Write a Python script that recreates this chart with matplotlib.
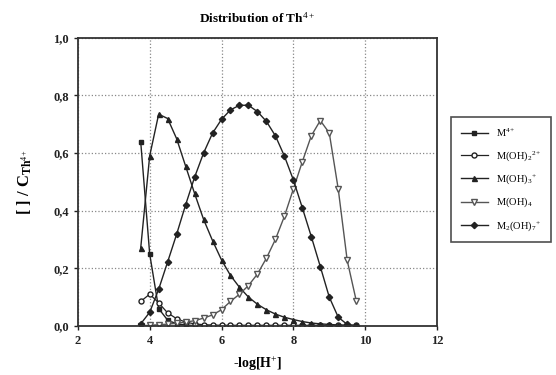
import numpy as np
import matplotlib
matplotlib.use("Agg")
import matplotlib.pyplot as plt

plt.rcParams["font.family"] = ["Liberation Serif", "DejaVu Serif"]
plt.rcParams["mathtext.fontset"] = "custom"
plt.rcParams["mathtext.rm"] = "Liberation Serif"
plt.rcParams["mathtext.it"] = "Liberation Serif:italic"
plt.rcParams["mathtext.bf"] = "Liberation Serif:bold"

# -log[H+] values
ph = [3.75, 4.0, 4.25, 4.5, 4.75, 5.0, 5.25, 5.5, 5.75, 6.0, 6.25, 6.5, 6.75,
      7.0, 7.25, 7.5, 7.75, 8.0, 8.25, 8.5, 8.75, 9.0, 9.25, 9.5, 9.75]

m4 = [0.64, 0.25, 0.06, 0.02, 0.007, 0.003, 0.001, 0.0, 0.0, 0.0, 0.0, 0.0, 0.0,
      0.0, 0.0, 0.0, 0.0, 0.0, 0.0, 0.0, 0.0, 0.0, 0.0, 0.0, 0.0]
m_oh2 = [0.085, 0.11, 0.08, 0.045, 0.025, 0.013, 0.007, 0.004, 0.003, 0.002, 0.002, 0.002, 0.002,
         0.002, 0.002, 0.002, 0.002, 0.002, 0.002, 0.002, 0.002, 0.002, 0.002, 0.002, 0.002]
m_oh3 = [0.27, 0.59, 0.735, 0.72, 0.65, 0.555, 0.46, 0.37, 0.296, 0.229, 0.175, 0.134, 0.10,
         0.075, 0.056, 0.041, 0.03, 0.022, 0.015, 0.01, 0.007, 0.005, 0.003, 0.002, 0.001]
m_oh4 = [0.0, 0.002, 0.004, 0.006, 0.009, 0.013, 0.018, 0.027, 0.038, 0.056, 0.085, 0.11, 0.14,
         0.18, 0.235, 0.30, 0.38, 0.475, 0.57, 0.66, 0.713, 0.67, 0.475, 0.227, 0.088]
m2_oh7 = [0.007, 0.047, 0.127, 0.222, 0.318, 0.42, 0.516, 0.60, 0.669, 0.717, 0.75, 0.766, 0.766,
          0.744, 0.71, 0.66, 0.59, 0.507, 0.41, 0.31, 0.206, 0.10, 0.03, 0.005, 0.0]

labels = [r"M$^{4+}$", r"M(OH)$_2$$^{2+}$", r"M(OH)$_3$$^{+}$", r"M(OH)$_4$", r"M$_2$(OH)$_7$$^{+}$"]

fig = plt.figure(figsize=(5.56, 3.75), dpi=100)
ax = fig.add_axes([0.140, 0.131, 0.646, 0.768])

dark = "#222222"
ax.plot(ph, m4, "-s", color=dark, ms=3.2, lw=1.0, label=labels[0])
ax.plot(ph, m_oh2, "-o", color=dark, mfc="white", ms=3.6, lw=0.9, label=labels[1])
ax.plot(ph, m_oh3, "-^", color=dark, ms=3.6, lw=1.0, label=labels[2])
ax.plot(ph, m_oh4, "-v", color="#555555", mfc="white", ms=4.2, lw=1.0, label=labels[3])
ax.plot(ph, m2_oh7, "-D", color=dark, ms=3.2, lw=1.0, label=labels[4])

ax.set_xlim(2, 12)
ax.set_ylim(0, 1.0)
ax.set_xticks([2, 4, 6, 8, 10, 12])
ax.set_yticks([0, 0.2, 0.4, 0.6, 0.8, 1.0])
ax.set_yticklabels(["0,0", "0,2", "0,4", "0,6", "0,8", "1,0"])
for lab in ax.get_xticklabels() + ax.get_yticklabels():
    lab.set_fontweight("bold")
    lab.set_fontsize(9)
ax.tick_params(direction="out", length=3, width=1, colors="#222222")
ax.grid(True, linestyle=":", color="#888888", lw=0.9)
for sp in ax.spines.values():
    sp.set_linewidth(1.3)
    sp.set_color("#333333")

ax.set_title(r"Distribution of Th$^{4+}$", fontsize=9.5, fontweight="bold", pad=11)
ax.set_xlabel(r"-log[H$^{+}$]", fontsize=10, fontweight="bold", labelpad=6)
ax.set_ylabel(r"[ ] / C$_{\mathbf{Th}^{4+}}$", fontsize=12, fontweight="bold", labelpad=14)

leg = ax.legend(loc="upper left", bbox_to_anchor=(1.04, 0.725), fontsize=7.5,
                frameon=True, fancybox=False, edgecolor="#222222",
                handlelength=2.6, borderpad=0.9, labelspacing=0.95, borderaxespad=0)
leg.get_frame().set_linewidth(1.2)

fig.savefig("out.png", dpi=100)
